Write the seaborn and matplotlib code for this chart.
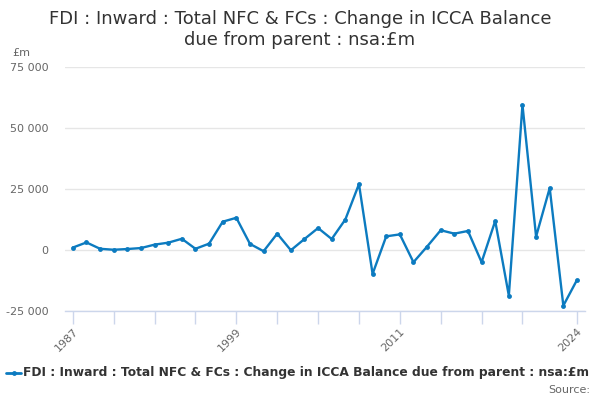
import matplotlib
matplotlib.use("Agg")
import matplotlib.pyplot as plt
import matplotlib.ticker as mticker
import seaborn as sns
import pandas as pd

years = list(range(1987, 2025))
values = [1000, 3100, 500, 100, 400, 800, 2200, 3000, 4600, 500,
          2600, 11600, 13200, 2500, -500, 6700, -100, 4500, 9000, 4500,
          12500, 27000, -9800, 5600, 6400, -5000, 1400, 8100, 6700, 7800,
          -5000, 11900, -18700, 59500, 5500, 25400, -22800, -12300]
series_name = "FDI : Inward : Total NFC & FCs : Change in ICCA Balance due from parent : nsa:£m"
title = "FDI : Inward : Total NFC & FCs : Change in ICCA Balance\ndue from parent : nsa:£m"
y_ticks = [-25000, 0, 25000, 50000, 75000]
x_ticks = [1987, 1990, 1993, 1996, 1999, 2002, 2005, 2008, 2011, 2014, 2017, 2020, 2024]
x_labels = ["1987", "", "", "", "1999", "", "", "", "2011", "", "", "", "2024"]

df = pd.DataFrame({"year": years, "value": values, "series": series_name})

sns.set_theme(style="white")
plt.rcParams['font.family'] = ['DejaVu Sans']

color = "#0c7bc0"
fig = plt.figure(figsize=(6, 4), dpi=100)
ax = fig.add_axes([0.108, 0.2225, 0.867, 0.61])

sns.lineplot(data=df, x="year", y="value", hue="series", palette=[color],
             marker="o", markersize=3.5, markeredgewidth=0, linewidth=1.7, ax=ax, legend=False)

ax.set_xlim(1986.41, 2024.59)
ax.set_ylim(-25000, 75000)
ax.set_yticks(y_ticks)
ax.yaxis.set_major_formatter(mticker.FuncFormatter(lambda v, p: f"{int(v):,}".replace(",", " ")))
ax.set_xticks(x_ticks)
ax.set_xticklabels(x_labels, rotation=45, ha="right", rotation_mode="anchor")
ax.grid(axis="y", color="#e6e6e6", linewidth=1)
ax.set_axisbelow(True)
for s in ["top", "right", "left"]:
    ax.spines[s].set_visible(False)
ax.spines["bottom"].set_color("#ccd6eb")
ax.spines["bottom"].set_linewidth(1)
ax.tick_params(axis="x", length=9, color="#ccd6eb", width=1, labelsize=8, labelcolor="#666666", pad=2, direction="out", bottom=True)
ax.tick_params(axis="y", length=0, labelsize=8, labelcolor="#666666", pad=12)
ax.set_xlabel("")
ax.set_ylabel("")

fig.text(0.5, 0.976, title, ha="center", va="top", fontsize=13, color="#333333", linespacing=1.22)
fig.text(0.02, 0.868, "£m", ha="left", va="center", fontsize=8, color="#666666")

# legend
fig.lines.append(plt.Line2D([0.01, 0.035], [0.068], transform=fig.transFigure, color=color, linewidth=2))
fig.lines.append(plt.Line2D([0.0225], [0.068], transform=fig.transFigure, color=color, marker="o", markersize=3.5, markeredgewidth=0))
fig.text(0.038, 0.068, series_name, ha="left", va="center", fontsize=8.8, fontweight="bold", color="#333333")
fig.text(0.983, 0.025, "Source:", ha="right", va="center", fontsize=8, color="#666666")

fig.savefig("out.png", dpi=100)
